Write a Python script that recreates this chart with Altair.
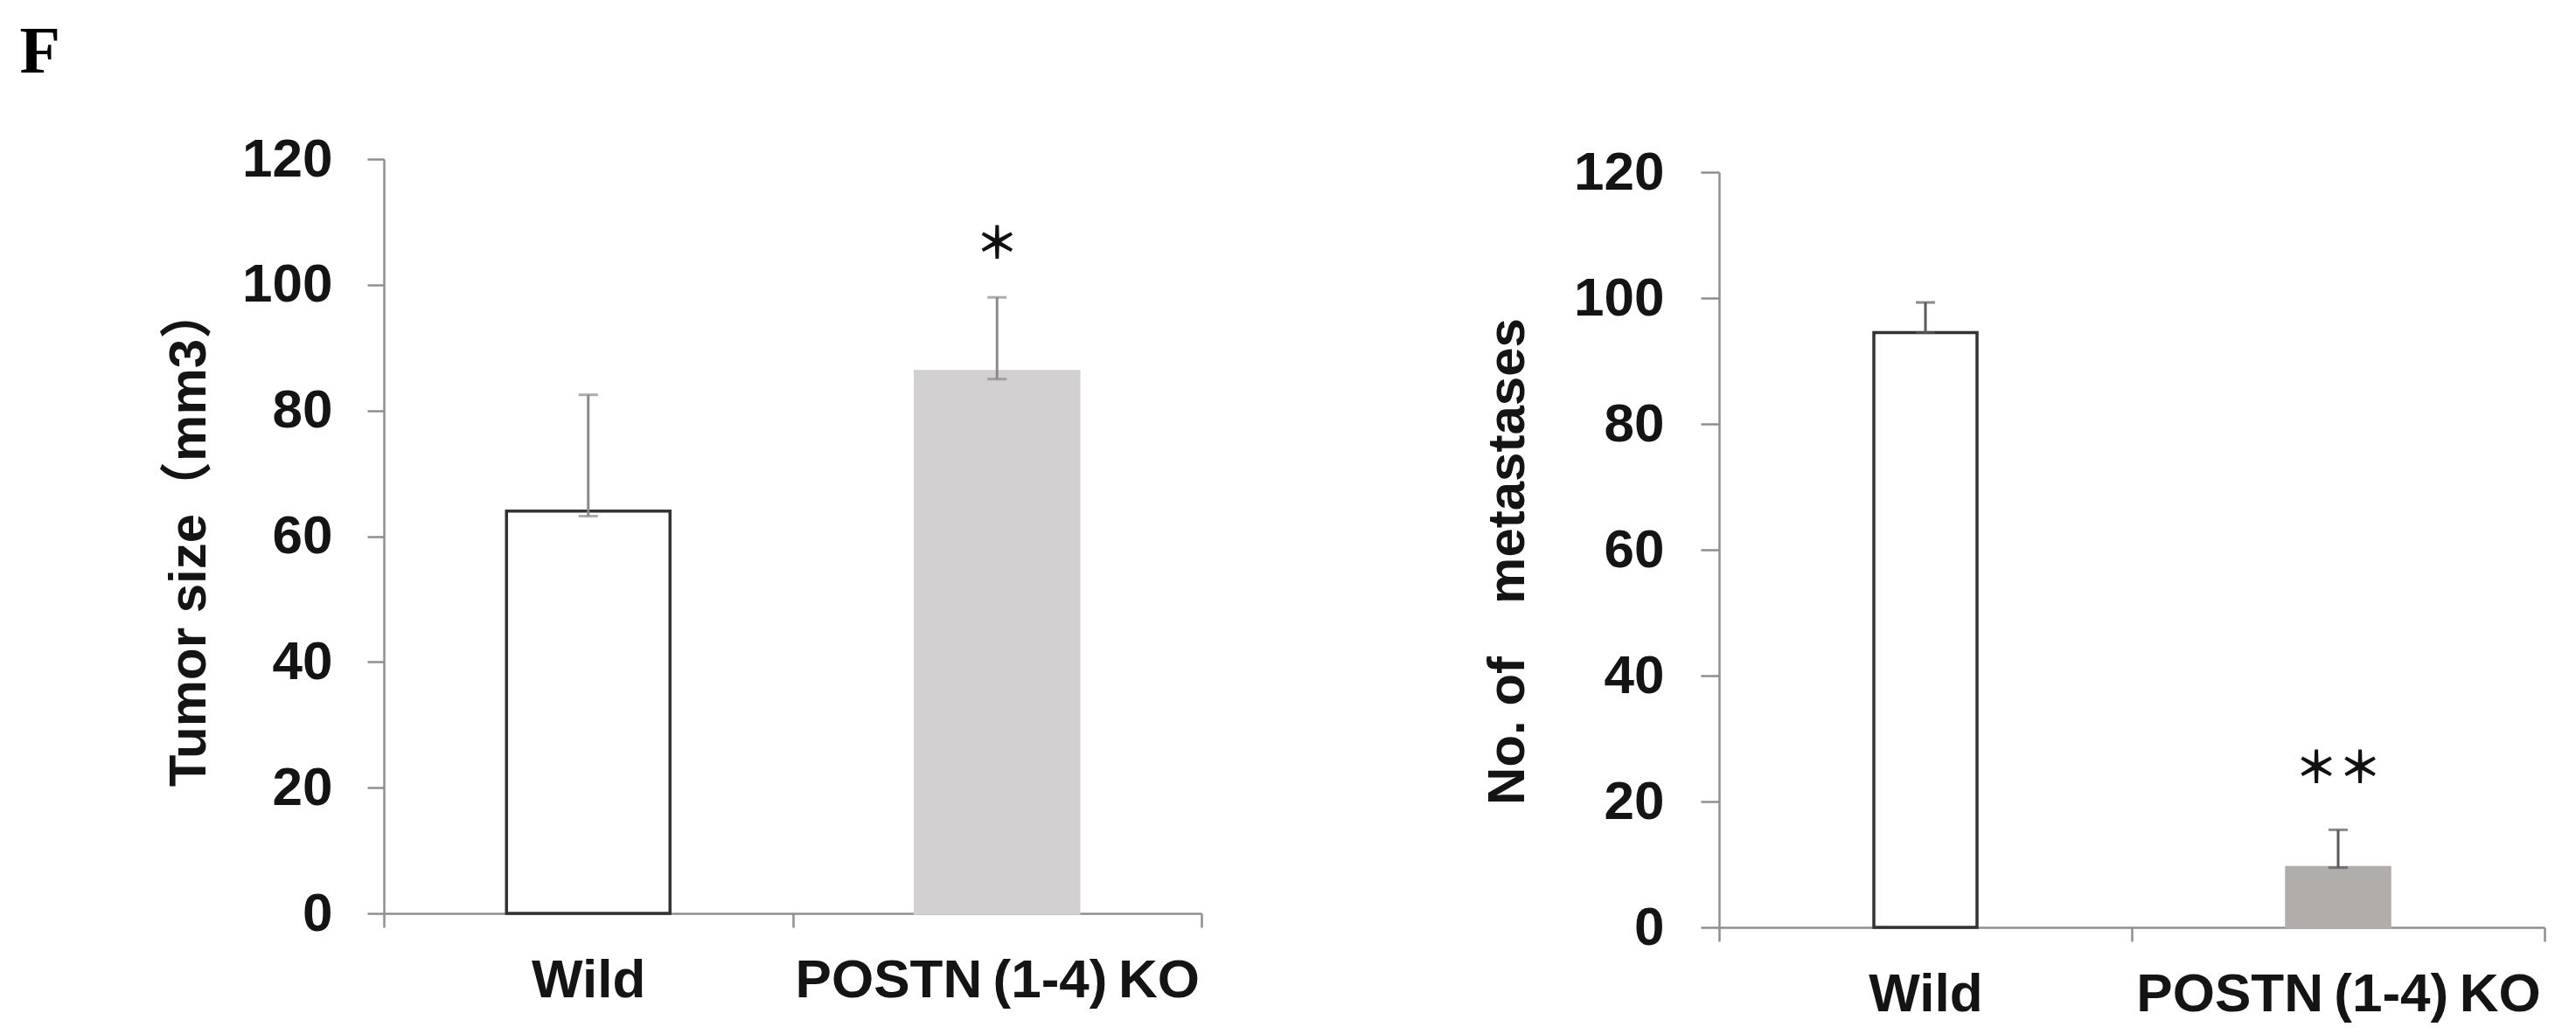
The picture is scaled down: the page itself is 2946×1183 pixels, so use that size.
import altair as alt
import pandas as pd

# ---------------- data ----------------
groups = ["Wild", "POSTN\u2009(1-4)\u2009KO"]
y_ticks = [0, 20, 40, 60, 80, 100, 120]

tumor_mean = [64.0, 86.2]
tumor_err_low = [63.2, 85.0]
tumor_err_high = [82.5, 98.0]
tumor_sig_group = [groups[1]]
tumor_sig_text = ["＊"]
tumor_sig_y = [106.3]

met_mean = [94.5, 9.5]
met_err_low = [94.5, 9.5]
met_err_high = [99.3, 15.5]
met_sig_group = [groups[1]]
met_sig_text = ["＊＊"]
met_sig_y = [25.0]

spacer_data = [0]

FONT = "'Liberation Sans', 'Noto Sans CJK JP', sans-serif"
AXIS_GREY = "#8f8f8f"


def panel(mean, lo, hi, sig_g, sig_t, sig_y, ytitle, bar_frac, ko_color,
          err_color, w, h, title_pad, label_pad, tick_y, title_y=None):
    df = pd.DataFrame({"group": groups, "mean": mean, "lo": lo, "hi": hi})
    sdf = pd.DataFrame({"group": sig_g, "txt": sig_t, "y": sig_y})
    xs = alt.Scale(domain=groups, paddingInner=0, paddingOuter=0)
    ys = alt.Scale(domain=[0, 120], nice=False, zero=True)
    x = alt.X("group:N", sort=groups, scale=xs,
              axis=alt.Axis(title=None, labelAngle=0, tickBand="extent",
                            tickSize=16, labelPadding=30, labelLimit=2000,
                            labelOverlap=False))
    yaxis_kw = dict(values=y_ticks, tickSize=tick_y,
                    labelPadding=label_pad, titlePadding=title_pad)
    if title_y is not None:
        yaxis_kw["titleY"] = title_y
    bars = alt.Chart(df).mark_bar(
        width=alt.RelativeBandSize(bar_frac), strokeWidth=3.5
    ).encode(
        x=x,
        y=alt.Y("mean:Q", scale=ys, title=ytitle, axis=alt.Axis(**yaxis_kw)),
        fill=alt.Fill("group:N", scale=alt.Scale(domain=groups, range=["#ffffff", ko_color]), legend=None),
        stroke=alt.Stroke("group:N", scale=alt.Scale(domain=groups, range=["#333333", ko_color]), legend=None),
    )
    rule = alt.Chart(df).mark_rule(color=err_color, strokeWidth=3).encode(
        x=alt.X("group:N", sort=groups, scale=xs),
        y=alt.Y("lo:Q", scale=ys, title=ytitle),
        y2="hi:Q",
    )
    cap_hi = alt.Chart(df).mark_tick(color=err_color, thickness=3, size=22).encode(
        x=alt.X("group:N", sort=groups, scale=xs),
        y=alt.Y("hi:Q", scale=ys, title=ytitle),
    )
    cap_lo = alt.Chart(df).mark_tick(color=err_color, thickness=3, size=22).encode(
        x=alt.X("group:N", sort=groups, scale=xs),
        y=alt.Y("lo:Q", scale=ys, title=ytitle),
    )
    sig = alt.Chart(sdf).mark_text(
        font="Noto Sans CJK JP", fontSize=50, fontWeight="bold",
        color="#111111", baseline="middle", align="center"
    ).encode(
        x=alt.X("group:N", sort=groups, scale=xs),
        y=alt.Y("y:Q", scale=ys, title=ytitle),
        text="txt:N",
    )
    return alt.layer(bars, rule, cap_hi, cap_lo, sig).properties(width=w, height=h)


left = panel(tumor_mean, tumor_err_low, tumor_err_high, tumor_sig_group,
             tumor_sig_text, tumor_sig_y, "Tumor size（mm3）", 0.40,
             "#d3d0d1", "#8a8a8a", 935, 863, 29, 40, 19)
right = panel(met_mean, met_err_low, met_err_high, met_sig_group,
              met_sig_text, met_sig_y, "No. of　metastases", 0.25,
              "#b1adab", "#5a5a5a", 944, 864, 44, 42, 21, title_y=445)

# invisible spacer that pushes the right panel down a little
spacer = alt.Chart(pd.DataFrame({"s": spacer_data})).mark_point(
    opacity=0, size=0
).encode(x=alt.value(0), y=alt.value(0)).properties(width=1, height=1)

right_col = alt.vconcat(spacer, right, spacing=-17)

chart = alt.hconcat(left, right_col, spacing=318).resolve_scale(
    fill="independent", stroke="independent"
).properties(
    title=alt.TitleParams("F", anchor="start", font="Liberation Serif",
                          fontSize=76, fontWeight="bold", color="#000000",
                          dx=-164, offset=52),
    padding={"left": 14, "top": 14, "right": 10, "bottom": 10},
).configure_view(stroke=None).configure_axis(
    grid=False,
    domainColor=AXIS_GREY, domainWidth=2.5,
    tickColor=AXIS_GREY, tickWidth=2.5,
    labelFont=FONT, labelFontSize=62, labelFontWeight="bold", labelColor="#141414",
    titleFont=FONT, titleFontSize=60, titleFontWeight="bold", titleColor="#141414",
)

chart.save("out.html", embed_options={"renderer": "svg", "actions": False})
